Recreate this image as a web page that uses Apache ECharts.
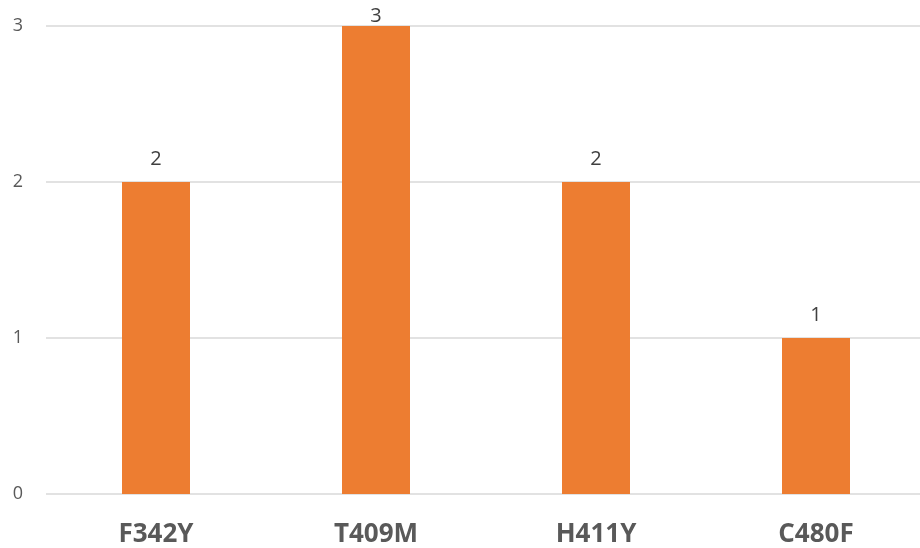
<!DOCTYPE html>
<html>
<head>
<meta charset="utf-8">
<script src="https://cdn.jsdelivr.net/npm/echarts@6/dist/echarts.min.js"></script>
<style>
  html, body { margin: 0; padding: 0; background: #fff; }
  #chart { width: 920px; height: 548px; }
</style>
</head>
<body>
<div id="chart"></div>
<script>
// Mutation counts per variant
const categories = ['F342Y', 'T409M', 'H411Y', 'C480F'];
const counts = [2, 3, 2, 1];
const yTicks = [0, 1, 2, 3];

const yMax = yTicks[yTicks.length - 1];

// A bar that reaches the top of the axis gets its label pulled in so it stays on the canvas
const seriesData = counts.map(v => v >= yMax
  ? { value: v, label: { distance: 0 } }
  : { value: v });

const chart = echarts.init(document.getElementById('chart'), null, { renderer: 'canvas' });
chart.setOption({
  animation: false,
  backgroundColor: '#ffffff',
  grid: {
    left: 46, width: 880, top: 26, bottom: 54,
    containLabel: false,
    outerBoundsMode: 'none'
  },
  xAxis: {
    type: 'category',
    data: categories,
    axisLine: { show: false },
    axisTick: { show: false },
    axisLabel: {
      color: '#595959',
      fontFamily: 'Open Sans',
      fontWeight: 'bold',
      fontSize: 26,
      margin: 28
    }
  },
  yAxis: {
    type: 'value',
    min: yTicks[0],
    max: yMax,
    interval: 1,
    axisLine: { show: false },
    axisTick: { show: false },
    splitLine: { lineStyle: { color: '#d9d9d9', width: 1.5 } },
    axisLabel: {
      color: '#595959',
      fontFamily: 'Open Sans',
      fontSize: 18,
      margin: 23
    }
  },
  series: [{
    type: 'bar',
    data: seriesData,
    barWidth: 68,
    itemStyle: { color: '#ED7D31' },
    label: {
      show: true,
      position: 'top',
      distance: 13,
      color: '#404040',
      fontFamily: 'Open Sans',
      fontSize: 20
    }
  }]
});
</script>
</body>
</html>
